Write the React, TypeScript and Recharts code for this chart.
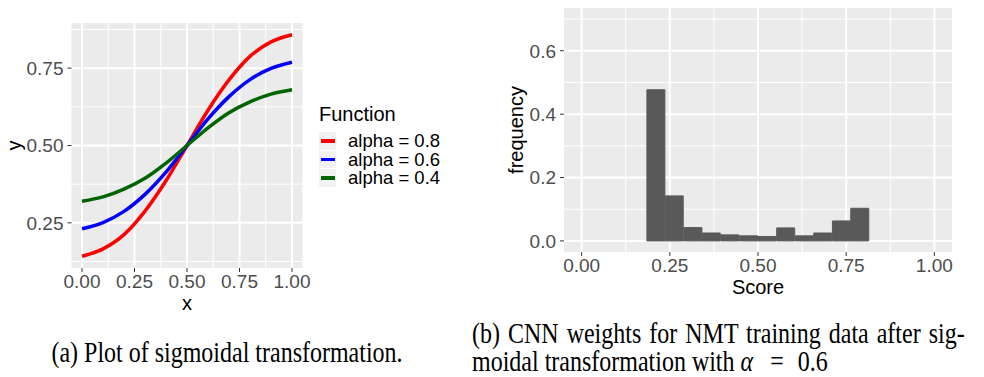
import React from "react"
import { LineChart, Line, BarChart, Bar, XAxis, YAxis, CartesianGrid, Legend } from "recharts"

// panel (a): sigmoid curves
const sigmoidX = [0, 0.1, 0.2, 0.3, 0.4, 0.5, 0.6, 0.7, 0.8, 0.9, 1]
const alpha08 = [0.142, 0.166, 0.212, 0.288, 0.386, 0.5, 0.614, 0.712, 0.788, 0.835, 0.858]
const alpha06 = [0.231, 0.251, 0.287, 0.342, 0.414, 0.5, 0.586, 0.658, 0.713, 0.749, 0.769]
const alpha04 = [0.32, 0.334, 0.359, 0.394, 0.443, 0.5, 0.557, 0.606, 0.641, 0.666, 0.68]
const seriesNames = ["alpha = 0.8", "alpha = 0.6", "alpha = 0.4"]

// panel (b): histogram of scores
const scoreBins = [0.211, 0.263, 0.316, 0.368, 0.421, 0.474, 0.526, 0.579, 0.632, 0.684, 0.737, 0.789]
const scoreFreq = [0.477, 0.142, 0.042, 0.025, 0.019, 0.016, 0.014, 0.041, 0.016, 0.025, 0.063, 0.103]

const xTicks = [0, 0.25, 0.5, 0.75, 1]
const xMinor = [0.125, 0.375, 0.625, 0.875]
const sigYTicks = [0.25, 0.5, 0.75]
const sigYMinor = [0.125, 0.375, 0.625, 0.875]
const freqTicks = [0, 0.2, 0.4, 0.6]
const freqMinor = [0.1, 0.3, 0.5, 0.7]

const sigmoidData = sigmoidX.map((x, i) => ({ x, a08: alpha08[i], a06: alpha06[i], a04: alpha04[i] }))
const histData = scoreBins.map((score, i) => ({ score, freq: scoreFreq[i] }))

const sans = "'Liberation Sans', Arial, sans-serif"
const serif = "'Liberation Serif', 'Times New Roman', serif"
const tickStyle = { fill: "#4D4D4D", fontSize: 19 }
const tickLineStyle = { stroke: "#333333" }

const renderLegend = (props: any) => {
  const items = [...(props.payload || [])].sort(
    (a: any, b: any) => seriesNames.indexOf(a.value) - seriesNames.indexOf(b.value)
  )
  return (
    <div style={{ fontFamily: sans, color: "#000" }}>
      <div style={{ fontSize: 20, lineHeight: "24px" }}>Function</div>
      <div style={{ marginTop: 6 }}>
        {items.map((entry: any) => (
          <div key={entry.value} style={{ display: "flex", alignItems: "center", height: 17.5, marginBottom: 1 }}>
            <div
              style={{
                width: 17,
                height: 17.5,
                background: "#F2F2F2",
                display: "flex",
                alignItems: "center",
                justifyContent: "center",
              }}
            >
              <div style={{ width: 14, height: 3.5, background: entry.color }} />
            </div>
            <span style={{ marginLeft: 12, fontSize: 18.5, lineHeight: "17px", whiteSpace: "nowrap" }}>{entry.value}</span>
          </div>
        ))}
      </div>
    </div>
  )
}

export default function App() {
  return (
    <div style={{ position: "absolute", left: 0, top: 0, width: 984, height: 377, background: "#fff", fontFamily: sans }}>
      <div style={{ position: "absolute", left: 0, top: 0 }}>
        <LineChart width={470} height={320} data={sigmoidData} margin={{ top: 23, right: 167.5, bottom: 4, left: 11.5 }}>
          <CartesianGrid fill="#EBEBEB" stroke="#FFFFFF" strokeWidth={1} verticalValues={xMinor} horizontalValues={sigYMinor} />
          <CartesianGrid stroke="#FFFFFF" strokeWidth={2} verticalValues={xTicks} horizontalValues={sigYTicks} />
          <XAxis
            dataKey="x"
            type="number"
            domain={[-0.05, 1.05]}
            allowDataOverflow
            ticks={xTicks}
            tickFormatter={(v: number) => v.toFixed(2)}
            axisLine={false}
            tickSize={4}
            tickMargin={3}
            tickLine={tickLineStyle}
            tick={tickStyle}
            height={48}
            label={{ value: "x", position: "insideBottom", offset: 6, fill: "#000", fontSize: 20 }}
          />
          <YAxis
            type="number"
            domain={[0.104, 0.896]}
            allowDataOverflow
            ticks={sigYTicks}
            tickFormatter={(v: number) => v.toFixed(2)}
            axisLine={false}
            tickSize={4}
            tickMargin={4}
            tickLine={tickLineStyle}
            tick={tickStyle}
            width={60}
            label={{ value: "y", angle: -90, position: "insideLeft", offset: 2, fill: "#000", fontSize: 20, style: { textAnchor: "middle" } }}
          />
          <Line dataKey="a08" name={seriesNames[0]} type="monotone" stroke="#FF0000" strokeWidth={3.5} dot={false} isAnimationActive={false} />
          <Line dataKey="a06" name={seriesNames[1]} type="monotone" stroke="#0000FF" strokeWidth={3.5} dot={false} isAnimationActive={false} />
          <Line dataKey="a04" name={seriesNames[2]} type="monotone" stroke="#006400" strokeWidth={3.5} dot={false} isAnimationActive={false} />
          <Legend
            layout="vertical"
            align="center"
            verticalAlign="middle"
            wrapperStyle={{ left: 319, top: 102, width: 140 }}
            content={renderLegend}
          />
        </LineChart>
      </div>

      <div style={{ position: "absolute", left: 490, top: 0 }}>
        <BarChart width={494} height={320} data={histData} margin={{ top: 8, right: 32, bottom: 20, left: 14 }} barCategoryGap={0} barGap={0}>
          <CartesianGrid fill="#EBEBEB" stroke="#FFFFFF" strokeWidth={1} verticalValues={xMinor} horizontalValues={freqMinor} />
          <CartesianGrid stroke="#FFFFFF" strokeWidth={2} verticalValues={xTicks} horizontalValues={freqTicks} />
          <XAxis
            dataKey="score"
            type="number"
            domain={[-0.05, 1.05]}
            allowDataOverflow
            ticks={xTicks}
            tickFormatter={(v: number) => v.toFixed(2)}
            axisLine={false}
            tickSize={4}
            tickMargin={3}
            tickLine={tickLineStyle}
            tick={tickStyle}
            height={48}
            label={{ value: "Score", position: "insideBottom", offset: 6, fill: "#000", fontSize: 20 }}
          />
          <YAxis
            type="number"
            domain={[-0.035, 0.735]}
            allowDataOverflow
            ticks={freqTicks}
            tickFormatter={(v: number) => v.toFixed(1)}
            axisLine={false}
            tickSize={4}
            tickMargin={4}
            tickLine={tickLineStyle}
            tick={tickStyle}
            width={60}
            label={{ value: "frequency", angle: -90, position: "insideLeft", offset: 12, fill: "#000", fontSize: 20, style: { textAnchor: "middle" } }}
          />
          <Bar dataKey="freq" fill="#595959" stroke="#595959" strokeWidth={1} isAnimationActive={false} />
        </BarChart>
      </div>

      <svg width={984} height={377} style={{ position: "absolute", left: 0, top: 0, pointerEvents: "none" }}>
        <g fontFamily={serif} fontSize={24} fill="#000">
          <text transform="translate(227 362) scale(1 1.2)" textAnchor="middle">
            (a) Plot of sigmoidal transformation.
          </text>
          <text transform="translate(472 343) scale(1 1.2)" style={{ wordSpacing: 2 }}>
            (b) CNN weights for NMT training data after sig-
          </text>
          <text transform="translate(472 371) scale(1 1.2)">
            moidal transformation with <tspan fontStyle="italic">α</tspan>
            <tspan dx={17}>=</tspan>
            <tspan dx={14}>0.6</tspan>
          </text>
        </g>
      </svg>
    </div>
  )
}
